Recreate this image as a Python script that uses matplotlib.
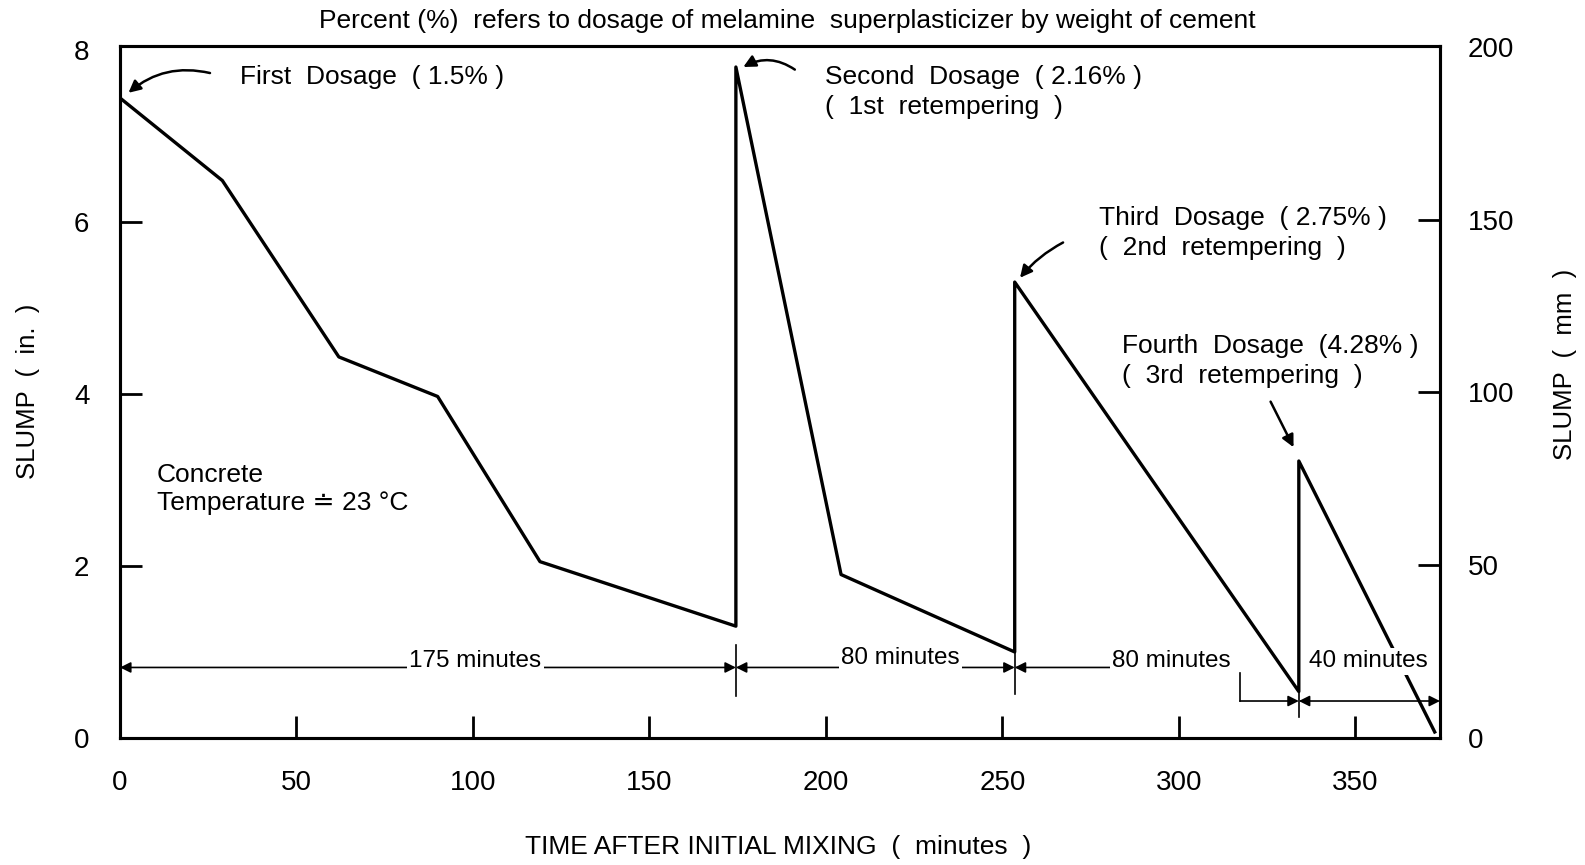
import matplotlib.pyplot as plt

#%% DATA

# slump history of the retempered concrete
TIME = [0, 29, 62, 90, 119, 174.5, 174.5, 204.3, 253.5, 253.5, 334, 334, 372.5]   # minutes
SLUMP = [7.44, 6.48, 4.43, 3.97, 2.05, 1.30, 7.80, 1.90, 1.00, 5.30, 0.54, 3.22, 0.07]  # in.

X_TICKS = [0, 50, 100, 150, 200, 250, 300, 350]
Y_TICKS = [0, 2, 4, 6, 8]
MM_TICKS = [0, 50, 100, 150, 200]

DOSE_TIMES = [0, 174.5, 253.5, 334]
INTERVAL_LABELS = ["175 minutes", "80 minutes", "80 minutes", "40 minutes"]
DOSAGE_LABELS = ["First  Dosage  ( 1.5% )",
                 "Second  Dosage  ( 2.16% )\n(  1st  retempering  )",
                 "Third  Dosage  ( 2.75% )\n(  2nd  retempering  )",
                 "Fourth  Dosage  (4.28% )\n(  3rd  retempering  )"]

#%% FIGURE

plt.rcParams['font.family'] = ['Liberation Sans', 'DejaVu Sans']
W, H = 1585, 865
fig = plt.figure(figsize=(W/100, H/100), dpi=100)
ax = fig.add_axes([120/W, 1-738/H, 1320/W, 692.5/H])

ax.plot(TIME, SLUMP, color='black', lw=2.4, zorder=3)

ax.set_xlim(0, 374)
ax.set_ylim(0, 8.05)
ax.set_xticks(X_TICKS)
ax.set_yticks(Y_TICKS)

ax2 = ax.twinx()
ax2.set_ylim(0, 200.4)
ax2.set_yticks(MM_TICKS)

ax.tick_params(direction='in', length=16, width=2, labelsize=20, colors='black')
ax.tick_params(axis='x', pad=23)
ax.tick_params(axis='y', pad=22)
ax2.tick_params(direction='in', length=16, width=2, labelsize=20, pad=20)

for a in (ax, ax2):
    for s in a.spines.values():
        s.set_linewidth(2.2)

ax.set_xlabel("TIME AFTER INITIAL MIXING  (  minutes  )", fontsize=19, va='center')
ax.xaxis.set_label_coords(0.4985, -0.157)
ax.set_ylabel("SLUMP  (  in.  )", fontsize=18.5, va='center')
ax.yaxis.set_label_coords(-0.0697, 0.5)
ax2.set_ylabel("SLUMP  (  mm  )", fontsize=18.5, va='center')
ax2.yaxis.set_label_coords(1.0947, 0.54)

fig.text(787/W, 1-21/H, "Percent (%)  refers to dosage of melamine  superplasticizer by weight of cement",
         ha='center', va='center', fontsize=19)

#%% DOSAGE ANNOTATIONS

txt = dict(fontsize=19, ha='left', va='center', linespacing=1.3)
arr = dict(arrowstyle='-|>', color='black', lw=1.8, mutation_scale=18, shrinkA=0, shrinkB=0)

ax.text(34, 7.68, DOSAGE_LABELS[0], **txt)
ax.annotate('', xy=(2.4, 7.50), xytext=(25.5, 7.73),
            arrowprops=dict(arr, connectionstyle='arc3,rad=0.25'))

ax.text(199.7, 7.51, DOSAGE_LABELS[1], **txt)
ax.annotate('', xy=(176.6, 7.80), xytext=(191.2, 7.77),
            arrowprops=dict(arr, connectionstyle='arc3,rad=0.3'))

ax.text(277.5, 5.87, DOSAGE_LABELS[2], **txt)
ax.annotate('', xy=(255, 5.35), xytext=(267.2, 5.76),
            arrowprops=dict(arr, connectionstyle='arc3,rad=0.1'))

ax.text(284, 4.38, DOSAGE_LABELS[3], **txt)
ax.annotate('', xy=(332.5, 3.38), xytext=(326, 3.91), arrowprops=arr)

ax.text(10.4, 2.89, "Concrete\nTemperature \u2250 23 \u00b0C", fontsize=19,
        ha='left', va='center', linespacing=1.2)

#%% TIME INTERVALS BETWEEN DOSAGES

dim = dict(arrowstyle='<|-|>', color='black', lw=1.2, mutation_scale=16, shrinkA=0, shrinkB=0)
one = dict(dim, arrowstyle='-|>')
box = dict(facecolor='white', edgecolor='none', pad=1.5)
lab = dict(fontsize=17.5, ha='center', va='center', bbox=box, zorder=5)

# 1st and 2nd interval on the upper level
ax.annotate('', xy=(DOSE_TIMES[1], 0.82), xytext=(DOSE_TIMES[0], 0.82), arrowprops=dim)
ax.annotate('', xy=(DOSE_TIMES[2], 0.82), xytext=(DOSE_TIMES[1], 0.82), arrowprops=dim)
ax.text(100.7, 0.89, INTERVAL_LABELS[0], **lab)
ax.text(221, 0.93, INTERVAL_LABELS[1], **lab)

# 3rd interval: starts high, steps down past the falling line
ax.annotate('', xy=(DOSE_TIMES[2], 0.82), xytext=(290, 0.82), arrowprops=one)
ax.text(297.9, 0.89, INTERVAL_LABELS[2], **lab)
ax.plot([317.3, 317.3], [0.76, 0.43], color='black', lw=1.2)
ax.annotate('', xy=(DOSE_TIMES[3], 0.43), xytext=(317.3, 0.43), arrowprops=one)

# 4th interval to the end of the test
ax.annotate('', xy=(374, 0.43), xytext=(DOSE_TIMES[3], 0.43), arrowprops=dim)
ax.text(353.6, 0.89, INTERVAL_LABELS[3], **lab)

# small markers at each retempering time
ax.plot([DOSE_TIMES[1]]*2, [0.49, 1.08], color='black', lw=1.2)
ax.plot([DOSE_TIMES[2]]*2, [0.51, 0.99], color='black', lw=1.2)
ax.plot([DOSE_TIMES[3]]*2, [0.24, 0.59], color='black', lw=1.2)

# no tick marks in the corners, only the numbers
fig.canvas.draw()
for t in ax.xaxis.get_major_ticks():
    if t.get_loc() == 0:
        t.tick1line.set_visible(False)
for t in ax.yaxis.get_major_ticks():
    if t.get_loc() in (0, 8):
        t.tick1line.set_visible(False)
for t in ax2.yaxis.get_major_ticks():
    if t.get_loc() in (0, 200):
        t.tick2line.set_visible(False)

plt.savefig("out.png", dpi=100)
